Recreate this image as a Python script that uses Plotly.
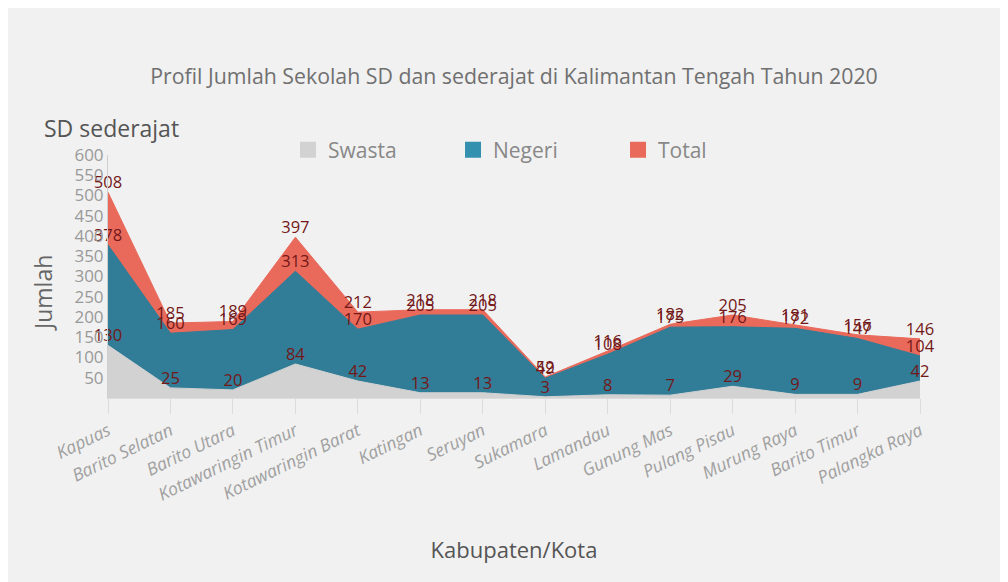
import plotly.graph_objects as go

kabupaten = ["Kapuas", "Barito Selatan", "Barito Utara", "Kotawaringin Timur",
             "Kotawaringin Barat", "Katingan", "Seruyan", "Sukamara", "Lamandau",
             "Gunung Mas", "Pulang Pisau", "Murung Raya", "Barito Timur", "Palangka Raya"]
swasta = [130, 25, 20, 84, 42, 13, 13, 3, 8, 7, 29, 9, 9, 42]
negeri = [378, 160, 169, 313, 170, 205, 205, 49, 108, 175, 176, 172, 147, 104]
total = [508, 185, 189, 397, 212, 218, 218, 52, 116, 182, 205, 181, 156, 146]

y_ticks = [50, 100, 150, 200, 250, 300, 350, 400, 450, 500, 550, 600]

label_font = dict(family="Open Sans", size=16.5, color="#731818")

fig = go.Figure()
series = [
    ("Total", total, "#e96a5b", "#e96a5b"),
    ("Negeri", negeri, "#317c97", "#3390ae"),
    ("Swasta", swasta, "#d2d2d2", "#d2d2d2"),
]
# area traces (drawn Total first, Swasta on top)
for name, vals, col, lcol in series:
    fig.add_trace(go.Scatter(
        x=kabupaten, y=vals, name=name, mode="lines+text",
        text=[str(v) for v in vals], textposition="top center",
        textfont=label_font, fill="tozeroy", fillcolor=col,
        line=dict(color=col, width=1), showlegend=False, cliponaxis=False,
    ))
# legend swatches (square markers)
for rank, (name, vals, col, lcol) in zip([3, 2, 1], series):
    fig.add_trace(go.Scatter(
        x=[None], y=[None], name=name, mode="markers",
        marker=dict(symbol="square", size=20, color=lcol, line=dict(width=0)),
        legendrank=rank, showlegend=True,
    ))

fig.update_layout(
    width=1000, height=574,
    paper_bgcolor="#f1f1f1", plot_bgcolor="#f1f1f1",
    margin=dict(l=100, r=88, t=147, b=184),
    font=dict(family="Open Sans", color="#888"),
    title=dict(text="Profil Jumlah Sekolah SD dan sederajat di Kalimantan Tengah Tahun 2020",
               x=0.5, xref="paper", xanchor="center", y=1 - 69 / 574, yanchor="middle",
               font=dict(size=21.3, color="#707070")),
    showlegend=True,
    legend=dict(orientation="h", x=0.2217, xanchor="left", y=1.02, yanchor="middle",
                entrywidth=120, entrywidthmode="pixels", itemsizing="trace",
                font=dict(size=21, color="#888"), bgcolor="rgba(0,0,0,0)"),
    xaxis=dict(type="category", range=[0, 13], showgrid=False, zeroline=False,
               showline=True, linecolor="#dcdcdc", linewidth=1,
               ticks="outside", ticklen=15, tickcolor="#dcdcdc",
               tickangle=-26, tickfont=dict(size=17.5, color="#a0a0a0", style="italic"),
               title=dict(text="Kabupaten/Kota", font=dict(size=22, color="#555"), standoff=38)),
    yaxis=dict(range=[0, 600], tickvals=y_ticks, showgrid=False, zeroline=False,
               showline=True, linecolor="#cfcfcf", linewidth=1, ticks="",
               tickfont=dict(size=17, color="#999")),
    annotations=[
        dict(text="SD sederajat", xref="paper", yref="paper",
             x=-66 / 812, y=1 + 27 / 243, xanchor="left", yanchor="middle",
             showarrow=False, font=dict(size=23, color="#555")),
        dict(text="Jumlah", xref="paper", yref="paper", textangle=-90,
             x=-65 / 812, y=105 / 243, xanchor="center", yanchor="middle",
             showarrow=False, font=dict(size=23, color="#666")),
    ],
)

fig.write_html("out.html")
